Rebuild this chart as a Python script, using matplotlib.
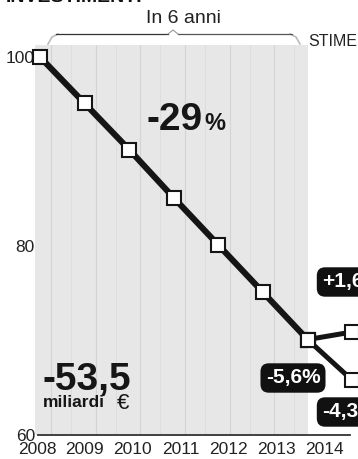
import matplotlib
matplotlib.use('Agg')
import matplotlib.pyplot as plt
from matplotlib.lines import Line2D
import numpy as np

# ---- data ----
years = [2008, 2009, 2010, 2011, 2012, 2013, 2014]
values = [100, 95.1, 90.2, 85.1, 80.1, 75.1, 70.1]
forecast_year = 2015
forecast_up = 70.9
forecast_down = 65.8
y_ticks = [60, 80, 100]
change_2014 = "-5,6%"
change_up = "+1,6%"
change_down = "-4,3%"
total_change = "-29"
total_amount = "-53,5"

W, H = 358, 459
fig = plt.figure(figsize=(W / 100, H / 100), dpi=100)
fig.patch.set_facecolor('white')
FONT = ['Liberation Sans', 'DejaVu Sans']


def fx(px):
    return px / W


def fy(py):
    return 1 - py / H


ax = fig.add_axes([fx(35), fy(435), 1 - fx(35), fy(45) - fy(435)])
x0 = 2008 - 5 / 44.6
ax.set_xlim(x0, 2008 + 318 / 44.6)
ax.set_ylim(60, 100 + 12 / 9.45)
ax.set_facecolor('white')
ax.axvspan(x0, 2014, color='#e7e7e7', lw=0, zorder=0)
for yr in years[:-1]:
    ax.axvline(yr + 0.25, color='#d4d4d4', lw=0.8, zorder=0.5)
    ax.axvline(yr + 0.7, color='#dcdcdc', lw=0.6, zorder=0.5)

# forecast branches
ax.plot([years[-1], forecast_year], [values[-1], forecast_up], color='#151515', lw=3.6,
        marker='s', ms=10, mfc='white', mec='#151515', mew=1.5, zorder=2, clip_on=False)
ax.plot([years[-1], forecast_year], [values[-1], forecast_down], color='#151515', lw=3.6,
        marker='s', ms=10, mfc='white', mec='#151515', mew=1.5, zorder=2, clip_on=False)
# main line
ax.plot(years, values, color='#151515', lw=4.4, marker='s', ms=10, mfc='white',
        mec='#151515', mew=1.5, zorder=3, clip_on=False)

for s in ['top', 'right', 'left']:
    ax.spines[s].set_visible(False)
ax.spines['bottom'].set_bounds(2008 - 2 / 44.6, 2015 - 2 / 44.6)
ax.spines['bottom'].set_color('#333333')
ax.spines['bottom'].set_linewidth(1.3)

ax.set_yticks(y_ticks)
ax.set_yticklabels([str(v) for v in y_ticks], family=FONT, fontsize=12.5, color='#222')
ax.tick_params(axis='y', length=0, pad=0)
tick_pos = 2008 - 0.07 + np.arange(len(years)) * 1.076
ax.set_xticks(tick_pos)
ax.set_xticklabels([str(y) for y in years], family=FONT, fontsize=12.5, color='#222')
ax.tick_params(axis='x', length=0, pad=5)

# headline texts
fig.text(fx(6), fy(1.5), "INVESTIMENTI", family=FONT, fontsize=14, fontweight='bold',
         color='#111', ha='left', va='baseline')
fig.text(fx(184), fy(23), "In 6 anni", family=FONT, fontsize=14, color='#222',
         ha='center', va='baseline')
fig.text(fx(308), fy(46), "STIME", family=FONT, fontsize=11.5, color='#222',
         ha='left', va='baseline')

# bracket
fig.add_artist(Line2D([fx(48), fx(52), fx(58)], [fy(44), fy(37), fy(34)], color='#bbbbbb', lw=1.2))
fig.add_artist(Line2D([fx(290), fx(296), fx(300)], [fy(34), fy(37), fy(44)], color='#bbbbbb', lw=1.2))
fig.add_artist(Line2D([fx(56), fx(168)], [fy(34), fy(34)], color='#333333', lw=0.9))
fig.add_artist(Line2D([fx(178), fx(292)], [fy(34), fy(34)], color='#555555', lw=0.9))
fig.add_artist(Line2D([fx(168), fx(173), fx(178)], [fy(34), fy(30), fy(34)], color='#999999', lw=0.8))

# -29%
fig.text(fx(203), fy(130), total_change, family=FONT, fontsize=28, fontweight='bold',
         color='#161616', ha='right', va='baseline')
fig.text(fx(204), fy(130), "%", family=FONT, fontsize=17, fontweight='bold',
         color='#161616', ha='left', va='baseline')

# -53,5 miliardi €
fig.text(fx(42), fy(390), total_amount, family=FONT, fontsize=28, fontweight='bold',
         color='#161616', ha='left', va='baseline')
fig.text(fx(43), fy(407), "miliardi", family=FONT, fontsize=12.5, fontweight='bold',
         color='#161616', ha='left', va='baseline')
fig.text(fx(123), fy(409), "€", family=FONT, fontsize=16,
         color='#161616', ha='center', va='baseline')

# black labels
box = dict(boxstyle='round,pad=0.25,rounding_size=0.4', fc='#111111', ec='none')
fig.text(fx(293), fy(378), change_2014, family=FONT, fontsize=15, fontweight='bold',
         color='white', ha='center', va='center', bbox=box)
fig.text(fx(322), fy(282), change_up, family=FONT, fontsize=15, fontweight='bold',
         color='white', ha='left', va='center', bbox=box)
fig.text(fx(322), fy(412), change_down, family=FONT, fontsize=15, fontweight='bold',
         color='white', ha='left', va='center', bbox=box)

fig.savefig('out.png', dpi=100)
